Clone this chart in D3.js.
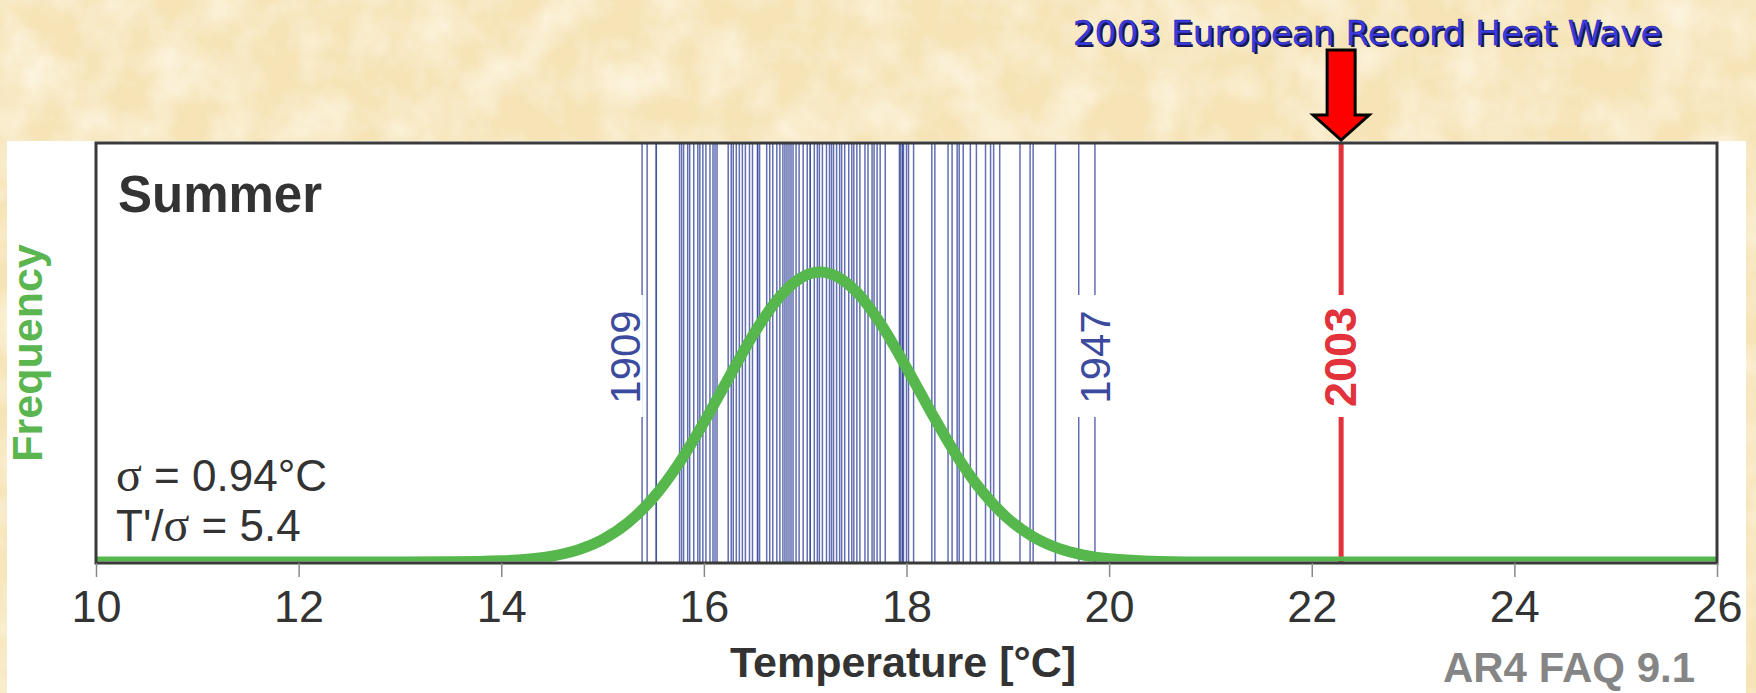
<!DOCTYPE html>
<html>
<head>
<meta charset="utf-8">
<script src="https://cdn.jsdelivr.net/npm/d3@7"></script>
<style>
  html, body { margin: 0; padding: 0; background: #f7e6bd; }
  svg { display: block; }
</style>
</head>
<body>
<svg id="chart"></svg>
<script>
let width = 1756, height = 693;

// x axis ticks (degrees C)
const xTicks = [10, 12, 14, 16, 18, 20, 22, 24, 26];

// summer mean temperatures, one line per year
const summerTemps = [
  15.39, 15.44, 15.53, 15.53, 15.76, 15.78, 15.80, 15.84, 15.86, 15.90, 15.94,
  15.96, 15.99, 16.02, 16.06, 16.09, 16.11, 16.13, 16.24, 16.27, 16.29,
  16.32, 16.35, 16.38, 16.41, 16.45, 16.48, 16.53, 16.53, 16.55, 16.62,
  16.65, 16.68, 16.72, 16.75, 16.78, 16.80, 16.82, 16.84, 16.86, 16.88,
  16.91, 16.94, 16.98, 17.02, 17.05, 17.05, 17.09, 17.12, 17.14, 17.17,
  17.21, 17.24, 17.26, 17.28, 17.31, 17.34, 17.36, 17.39, 17.43, 17.46,
  17.48, 17.51, 17.54, 17.59, 17.62, 17.66, 17.68, 17.71, 17.74, 17.79,
  17.93, 17.94, 17.96, 17.96, 17.97, 18.00, 18.02, 18.07, 18.25, 18.28, 18.41,
  18.45, 18.50, 18.52, 18.56, 18.63, 18.69, 18.78, 18.83, 18.86, 18.92,
  19.12, 19.22, 19.25, 19.47, 19.70, 19.86
];

// labelled years
const yearLabels = ["1909", "1947"];
const yearLabelTemps = [15.22, 19.86];

// record year
const recordYear = "2003";
const recordTemp = 22.29;

// fitted frequency curve (relative frequency)
const curveTemps = [10, 12, 13, 13.5, 14, 14.25, 14.5, 14.75, 15, 15.25, 15.5,
  15.75, 16, 16.25, 16.5, 16.75, 17, 17.15, 17.25, 17.5, 17.75, 18, 18.25,
  18.5, 18.75, 19, 19.25, 19.5, 19.75, 20, 20.5, 21, 22, 26];
const curveFreq = [0, 0, 0, 0.0006, 0.004, 0.0095, 0.02, 0.041, 0.077, 0.135,
  0.221, 0.338, 0.481, 0.638, 0.791, 0.915, 0.988, 1.0, 0.994, 0.934, 0.819,
  0.67, 0.512, 0.364, 0.242, 0.15, 0.087, 0.047, 0.024, 0.011, 0.002, 0, 0, 0];

let svg = d3.select("#chart")
  .attr("width", width)
  .attr("height", height)
  .attr("viewBox", [0, 0, width, height]);

// parchment background
const defs = svg.append("defs");
var paper = defs.append("filter")
  .attr("id", "paper")
  .attr("x", "0%").attr("y", "0%")
  .attr("width", "100%").attr("height", "100%");
paper.append("feTurbulence")
  .attr("type", "fractalNoise")
  .attr("baseFrequency", 0.02)
  .attr("numOctaves", 4)
  .attr("seed", 3)
  .attr("result", "noise");
paper.append("feColorMatrix")
  .attr("in", "noise")
  .attr("type", "matrix")
  .attr("values", "0 0 0 0 1, 0 0 0 0 0.97, 0 0 0 0 0.88, 1.3 0 0 0 -0.45");

defs.append("clipPath").attr("id", "plotClip")
  .append("rect")
  .attr("x", 96).attr("y", 143)
  .attr("width", 1621).attr("height", 418.5);

svg.append("rect")
  .attr("width", width).attr("height", height)
  .attr("fill", "#f6e3b6");
svg.append("rect")
  .attr("width", width).attr("height", height)
  .attr("filter", "url(#paper)");

// white figure panel
svg.append("rect")
  .attr("x", 7).attr("y", 141)
  .attr("width", 1739).attr("height", height - 141)
  .attr("fill", "#fff");

let x = d3.scaleLinear().domain([10, 26]).range([96, 1717]);
let y = d3.scaleLinear().domain([0, 1]).range([562, 272]);

const plotTop = 143, plotBottom = 563;

// year lines
svg.append("g")
  .selectAll("line")
  .data(summerTemps)
  .join("line")
  .attr("x1", d => x(d)).attr("x2", d => x(d))
  .attr("y1", plotTop).attr("y2", plotBottom)
  .attr("stroke", "#3a4a9e")
  .attr("stroke-width", 1.5)
  .attr("stroke-opacity", 0.8);

// record line
svg.append("line")
  .attr("x1", x(recordTemp)).attr("x2", x(recordTemp))
  .attr("y1", plotTop).attr("y2", plotBottom)
  .attr("stroke", "#e2323c")
  .attr("stroke-width", 5);

// rotated labels with white gaps
function yearLabel(t, txt, color, weight) {
  svg.append("rect")
    .attr("x", x(t) - 18).attr("y", 295)
    .attr("width", 36).attr("height", 122)
    .attr("fill", "#fff");
  svg.append("text")
    .attr("transform", `translate(${x(t) + 15},357) rotate(-90)`)
    .attr("text-anchor", "middle")
    .attr("font-family", "Liberation Sans, Arial, sans-serif")
    .attr("font-size", weight === "bold" ? 45 : 42)
    .attr("font-weight", weight)
    .attr("fill", color)
    .text(txt);
}
yearLabels.forEach((yr, i) => yearLabel(yearLabelTemps[i], yr, "#3c4b9e", "normal"));
yearLabel(recordTemp, recordYear, "#e2323c", "bold");

// frequency curve
const curvePts = curveTemps.map((t, i) => [t, curveFreq[i]]);
svg.append("path")
  .datum(curvePts)
  .attr("clip-path", "url(#plotClip)")
  .attr("fill", "none")
  .attr("stroke", "#55b74c")
  .attr("stroke-width", 11)
  .attr("stroke-linejoin", "round")
  .attr("d", d3.line().x(d => x(d[0])).y(d => y(d[1])).curve(d3.curveMonotoneX));

// frame
svg.append("rect")
  .attr("x", 96).attr("y", plotTop)
  .attr("width", 1621).attr("height", plotBottom - plotTop)
  .attr("fill", "none")
  .attr("stroke", "#3a3a3a")
  .attr("stroke-width", 3);

// x axis
const xAxis = svg.append("g")
  .attr("transform", `translate(0,${plotBottom})`)
  .call(d3.axisBottom(x).tickValues(xTicks).tickSize(14).tickPadding(13));
xAxis.select(".domain").remove();
xAxis.selectAll(".tick line").attr("stroke", "#888").attr("stroke-width", 1.5);
xAxis.selectAll(".tick text")
  .attr("font-family", "Liberation Sans, Arial, sans-serif")
  .attr("font-size", 45)
  .attr("fill", "#333");

// texts
const font = "Liberation Sans, Arial, sans-serif";
svg.append("text")
  .attr("x", 903).attr("y", 677)
  .attr("text-anchor", "middle")
  .attr("font-family", font).attr("font-size", 43).attr("font-weight", "bold")
  .attr("fill", "#333")
  .text("Temperature [°C]");

svg.append("text")
  .attr("transform", "translate(42,353) rotate(-90)")
  .attr("text-anchor", "middle")
  .attr("font-family", font).attr("font-size", 43).attr("font-weight", "bold")
  .attr("fill", "#5bb551")
  .text("Frequency");

svg.append("text")
  .attr("x", 118).attr("y", 212)
  .attr("font-family", font).attr("font-size", 51).attr("font-weight", "bold")
  .attr("fill", "#333")
  .text("Summer");

const sigma1 = svg.append("text")
  .attr("x", 116).attr("y", 491)
  .attr("font-family", font).attr("font-size", 44)
  .attr("fill", "#333");
sigma1.append("tspan").attr("font-family", "Liberation Serif, serif").attr("font-size", 48).text("σ");
sigma1.append("tspan").text(" = 0.94°C");

const sigma2 = svg.append("text")
  .attr("x", 116).attr("y", 541)
  .attr("font-family", font).attr("font-size", 44)
  .attr("fill", "#333");
sigma2.append("tspan").text("T'/");
sigma2.append("tspan").attr("font-family", "Liberation Serif, serif").attr("font-size", 48).text("σ");
sigma2.append("tspan").text(" = 5.4");

svg.append("text")
  .attr("x", 1569).attr("y", 682)
  .attr("text-anchor", "middle")
  .attr("font-family", font).attr("font-size", 42).attr("font-weight", "bold")
  .attr("fill", "#858585")
  .text("AR4 FAQ 9.1");

// heading with drop shadow
const title = "2003 European Record Heat Wave";
svg.append("text")
  .attr("x", 1075).attr("y", 47)
  .attr("font-family", "DejaVu Sans, sans-serif").attr("font-size", 34)
  .attr("textLength", 589).attr("lengthAdjust", "spacingAndGlyphs")
  .attr("fill", "#161650")
  .text(title);
svg.append("text")
  .attr("x", 1073).attr("y", 45)
  .attr("font-family", "DejaVu Sans, sans-serif").attr("font-size", 34)
  .attr("textLength", 589).attr("lengthAdjust", "spacingAndGlyphs")
  .attr("fill", "#3a3ae6")
  .attr("stroke", "#20208a").attr("stroke-width", 0.6)
  .text(title);

// red arrow pointing at the record line
const ax = x(recordTemp);
const arrowPts = [
  [ax - 14, 50], [ax + 14, 50], [ax + 14, 115], [ax + 28, 115],
  [ax, 140], [ax - 28, 115], [ax - 14, 115]
];
svg.append("path")
  .attr("d", d3.line()(arrowPts) + "Z")
  .attr("fill", "#ff0000")
  .attr("stroke", "#000")
  .attr("stroke-width", 3)
  .attr("stroke-linejoin", "miter");
</script>
</body>
</html>
